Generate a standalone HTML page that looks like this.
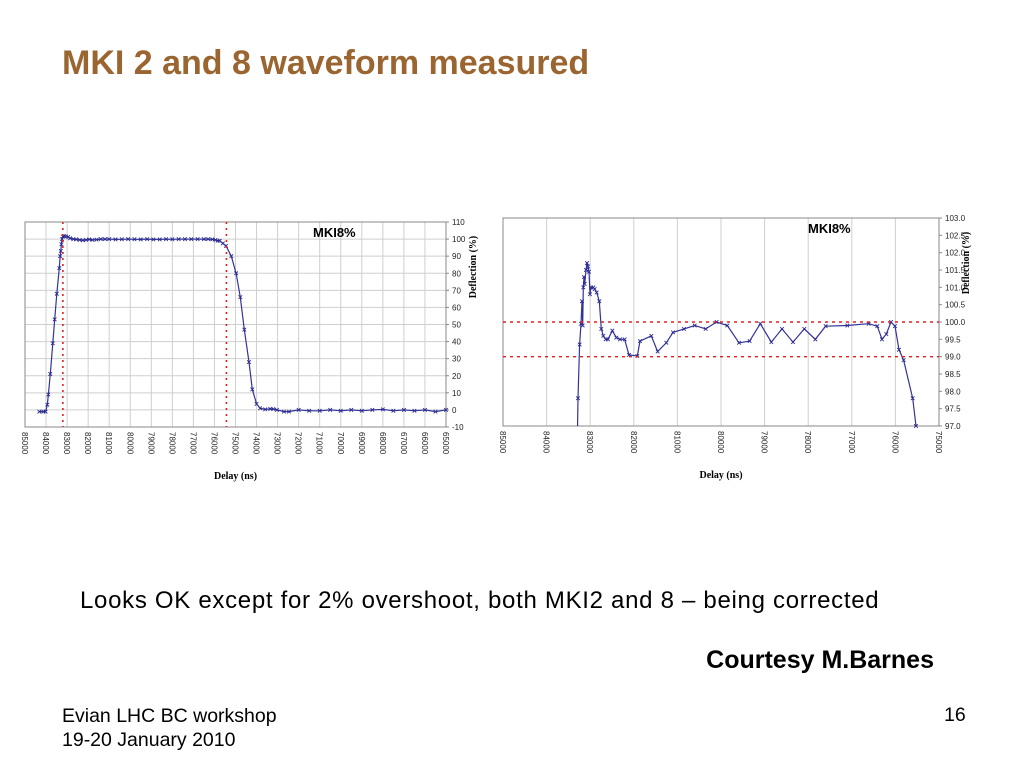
<!DOCTYPE html>
<html><head><meta charset="utf-8">
<style>
body{margin:0;width:1024px;height:768px;background:#fff;position:relative;overflow:hidden;font-family:"Liberation Sans",sans-serif}
.abs{position:absolute;white-space:nowrap}
</style></head>
<body>
<div class="abs" style="left:62px;top:44px;font-size:34px;font-weight:bold;color:#9a6530">MKI 2 and 8 waveform measured</div>
<svg id="c" width="1024" height="768" style="position:absolute;left:0;top:0"></svg>
<div class="abs" style="left:80px;top:587px;font-size:24px;letter-spacing:0.7px;color:#000">Looks OK except for 2% overshoot, both MKI2 and 8 – being corrected</div>
<div class="abs" style="right:90px;top:646px;font-size:25px;font-weight:bold;color:#000">Courtesy M.Barnes</div>
<div class="abs" style="left:62px;top:704px;font-size:19.5px;line-height:24px;color:#000">Evian LHC BC workshop<br>19-20 January 2010</div>
<div class="abs" style="left:944px;top:704px;font-size:19.5px;color:#000">16</div>
<script>
const leftDelay=[84320,84130,84020,83940,83890,83800,83680,83590,83490,83370,83330,83300,83270,83240,83200,83140,83050,82950,82860,82700,82570,82400,82250,82100,81950,81800,81600,81400,81200,81000,80700,80400,80100,79800,79500,79200,78900,78600,78300,78000,77700,77400,77100,76800,76500,76300,76100,75950,75850,75750,75600,75450,75200,74970,74770,74580,74360,74200,74000,73830,73590,73350,73200,73030,72700,72460,72000,71500,71000,70500,70000,69500,69000,68500,68000,67500,67000,66500,66000,65500,65000];
const leftValue=[-1,-1,-1,3,9,21,39,53,68,83,90,93,97,100,101.5,101.8,101.5,101.2,100.5,100,99.8,99.5,99.3,99.5,99.8,99.5,99.7,100,100,100,99.8,99.9,100,99.9,99.8,100,99.8,99.8,100,99.9,100,100,100,100,100,100,99.8,99.5,99,99,97.5,96,90,80,66,47,28,12,3.5,1,0.3,0.6,0.5,0,-1,-1,0,-0.5,-0.5,0,-0.5,0,-0.5,0,0.3,-0.5,0,-0.5,0,-1,0];
const leftXTicks=[85000,84000,83000,82000,81000,80000,79000,78000,77000,76000,75000,74000,73000,72000,71000,70000,69000,68000,67000,66000,65000];
const leftYTicks=[-10,0,10,20,30,40,50,60,70,80,90,100,110];
const leftRefDelays=[83200,75430];
const rightDelay=[83340,83295,83280,83242,83211,83188,83173,83158,83142,83127,83096,83073,83051,83028,83005,82982,82928,82898,82852,82791,82745,82699,82645,82592,82492,82401,82317,82210,82110,81919,81858,81598,81453,81254,81101,80849,80604,80352,80100,79855,79587,79343,79098,78846,78601,78349,78089,77837,77600,77103,76614,76415,76308,76208,76101,76010,75918,75811,75604,75528,75480];
const rightValue=[94,96.5,97.8,99.35,99.95,100.6,99.9,101.0,101.3,101.1,101.5,101.7,101.6,101.45,100.8,101.0,101.0,100.95,100.85,100.6,99.8,99.6,99.5,99.5,99.75,99.55,99.5,99.5,99.05,99.02,99.45,99.6,99.15,99.4,99.7,99.8,99.9,99.8,100.0,99.9,99.4,99.45,99.95,99.42,99.8,99.42,99.8,99.5,99.88,99.9,99.95,99.88,99.5,99.65,100.0,99.88,99.2,98.9,97.8,97.0,96.5];
const rightXTicks=[85000,84000,83000,82000,81000,80000,79000,78000,77000,76000,75000];
const rightYTicks=[97.0,97.5,98.0,98.5,99.0,99.5,100.0,100.5,101.0,101.5,102.0,102.5,103.0];
const rightRefValues=[100.0,99.0];

const NS='http://www.w3.org/2000/svg';
const svg=document.getElementById('c');
function mk(tag,attrs,parent){const e=document.createElementNS(NS,tag);for(const k in attrs)e.setAttribute(k,attrs[k]);(parent||svg).appendChild(e);return e;}

function drawChart(id,box,xMin,xMax,yMin,yMax,xTicks,yTicks,dec,hGrid,delays,values,titleX){
  const g=mk('g',{});
  
  
  const sx=v=>box.x0+(xMin-v)/(xMin-xMax)*(box.x1-box.x0);
  const sy=v=>box.y1-(v-yMin)/(yMax-yMin)*(box.y1-box.y0);
  mk('clipPath',{id:id+'-clip'},g).appendChild(document.createElementNS(NS,'rect'));
  const cr=g.querySelector('clipPath rect');cr.setAttribute('x',box.x0);cr.setAttribute('y',box.y0);cr.setAttribute('width',box.x1-box.x0);cr.setAttribute('height',box.y1-box.y0);
  xTicks.forEach(t=>{const x=sx(t);
    const l=mk('line',{x1:x,x2:x,y1:box.y0,y2:box.y1,stroke:'#cfcfcf','stroke-width':1},g);
    
    
    const tx=mk('text',{x:0,y:0,'font-size':8,fill:'#222','font-family':'Liberation Sans, sans-serif',transform:`translate(${x-3},${box.y1+5}) rotate(90)`},g);
    tx.textContent=t;
    
    
  });
  yTicks.forEach(t=>{const y=sy(t);
    if(hGrid){const l=mk('line',{x1:box.x0,x2:box.x1,y1:y,y2:y,stroke:'#cfcfcf','stroke-width':1},g);
      
      }
    mk('line',{x1:box.x1,x2:box.x1+3,y1:y,y2:y,stroke:'#888'},g);
    const tx=mk('text',{x:box.x1+6,y:y+3,'font-size':8,fill:'#222','font-family':'Liberation Sans, sans-serif'},g);
    tx.textContent=t.toFixed(dec);
    
    
  });
  const fr=mk('rect',{x:box.x0,y:box.y0,width:box.x1-box.x0,height:box.y1-box.y0,fill:'none',stroke:'#888','stroke-width':1},g);
  
  
  const pts=delays.map((d,i)=>sx(d).toFixed(1)+','+sy(values[i]).toFixed(1)).join(' ');
  const pl=mk('polyline',{points:pts,fill:'none',stroke:'#33339a','stroke-width':1.2,'clip-path':`url(#${id}-clip)`},g);
  
  
  delays.forEach((d,i)=>{const x=sx(d),y=sy(values[i]);
    if(y>box.y1||y<box.y0)return;
    const m=mk('path',{d:`M${x-1.8},${y-1.8}L${x+1.8},${y+1.8}M${x-1.8},${y+1.8}L${x+1.8},${y-1.8}`,stroke:'#2b2b8f','stroke-width':0.9},g);
    
    
  });
  const tt=mk('text',{x:titleX,y:box.y0+15,'font-size':13,'font-weight':'bold',fill:'#000','font-family':'Liberation Sans, sans-serif'},g);
  tt.textContent='MKI8%';
  
  
  const xl=mk('text',{x:(box.x0+box.x1)/2,y:box.y1+52,'font-size':10,'font-weight':'bold','text-anchor':'middle',fill:'#000','font-family':'Liberation Serif, serif'},g);
  xl.textContent='Delay (ns)';
  
  
  const yl=mk('text',{x:0,y:0,'font-size':10,'font-weight':'bold','text-anchor':'middle',fill:'#000','font-family':'Liberation Serif, serif',transform:`translate(${box.x1+30},${box.y0+45}) rotate(-90)`},g);
  yl.textContent='Deflection (%)';
  
  
  return {sx,sy,g};
}
const L=drawChart('left',{x0:25,x1:446,y0:222,y1:427},85000,65000,-10,110,leftXTicks,leftYTicks,0,true,leftDelay,leftValue,313);
leftRefDelays.forEach(d=>{const x=L.sx(d);
  const l=mk('line',{x1:x,x2:x,y1:222,y2:427,stroke:'#e02020','stroke-width':1.6,'stroke-dasharray':'2,4'},L.g);
  
  
});
const R=drawChart('right',{x0:503,x1:939,y0:218,y1:426},85000,75000,97,103,rightXTicks,rightYTicks,1,false,rightDelay,rightValue,808);
rightRefValues.forEach(v=>{const y=R.sy(v);
  const l=mk('line',{x1:503,x2:939,y1:y,y2:y,stroke:'#e02020','stroke-width':1.4,'stroke-dasharray':'3,4'},R.g);
  
  
});
</script>
</body></html>
